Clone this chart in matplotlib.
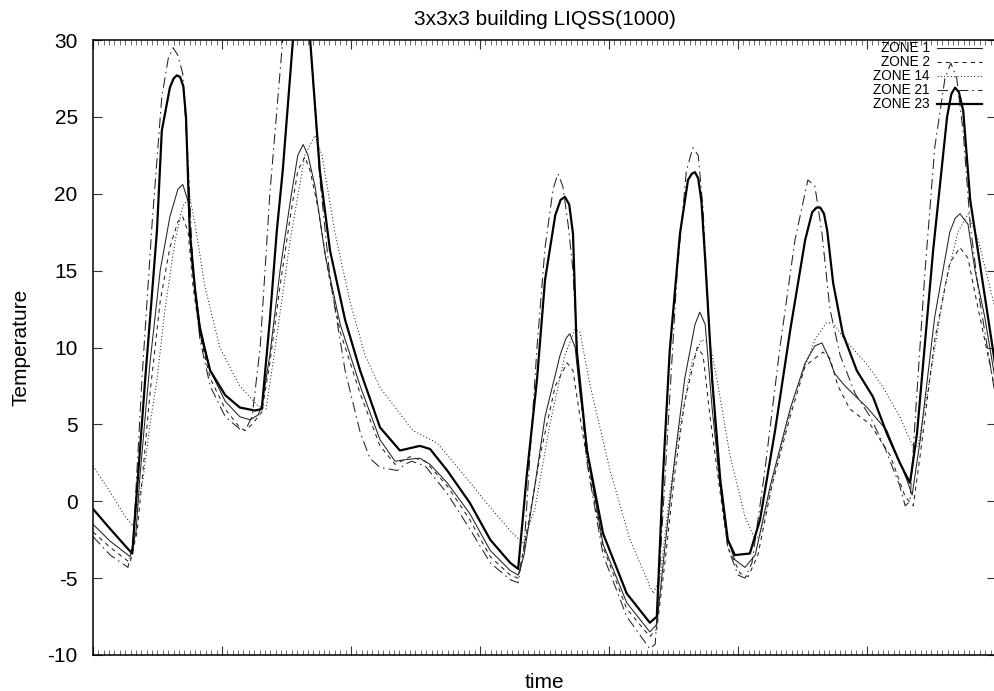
import numpy as np
import matplotlib.pyplot as plt
from matplotlib.ticker import MultipleLocator, NullFormatter

plt.rcParams['font.family'] = ['Liberation Sans', 'DejaVu Sans']
plt.rcParams['axes.unicode_minus'] = False

#==============#
# Curve data   #
#==============#
# time in hours, temperature in deg

z23_t = [0.0, 3.2, 6.0, 7.3, 8.6, 9.7, 10.8, 11.9, 12.8, 14.3, 15.0, 15.6, 16.2, 16.8, 17.3, 18.0, 19.0, 19.9,
         21.8, 24.6, 27.3, 30.1, 31.4, 32.9, 34.2, 35.3, 37.2, 38.0, 38.7, 39.4, 40.4, 42.2, 44.1,
         46.9, 49.7, 53.4, 57.1, 60.8, 62.7, 65.9, 70.1, 73.9, 77.6, 79.1, 80.7, 82.6, 84.1, 86.0,
         87.0, 87.8, 88.6, 89.3, 90.0, 91.9, 94.9, 99.3, 103.6, 104.9, 106.0, 107.3, 109.2, 110.7, 111.4,
         112.0, 112.6, 113.2, 113.9, 115.2, 116.7, 118.1, 119.4, 122.2, 124.1, 126.9, 129.7, 132.5, 133.8,
         134.6, 135.3, 136.0, 136.6, 137.7, 139.5, 142.1, 145.1, 147.7, 150.1, 152.0, 153.3, 156.3,
         158.9, 159.7, 160.4, 161.1, 161.9, 163.2, 167.8]
z23_v = [-0.5, -1.8, -2.9, -3.4, 2.7, 7.9, 12.7, 17.6, 24.1, 26.9, 27.5, 27.7, 27.6, 27.0, 25.0, 17.6, 13.7, 11.1,
         8.5, 6.9, 6.1, 5.9, 6.0, 11.8, 17.6, 21.5, 30.0, 32.5, 33.5, 32.5, 30.0, 21.5, 16.3,
         11.8, 8.5, 4.8, 3.3, 3.6, 3.4, 2.0, -0.1, -2.5, -4.0, -4.4, 1.7, 7.9, 14.4, 18.6,
         19.6, 19.8, 19.3, 17.4, 9.8, 3.3, -2.1, -6.0, -7.9, -7.5, 1.4, 9.8, 17.4, 20.9, 21.3,
         21.4, 21.0, 19.5, 15.7, 7.9, 1.4, -2.5, -3.5, -3.4, -1.2, 4.6, 11.1, 17.0, 18.8,
         19.1, 19.1, 18.7, 17.6, 14.2, 10.9, 8.5, 6.8, 4.4, 2.5, 1.2, 4.4, 16.3,
         25.0, 26.5, 26.9, 26.6, 25.4, 19.6, 9.0]

z1_t = [0.0, 3.2, 6.9, 8.0, 8.7, 10.6, 12.5, 14.3, 15.8, 16.7, 17.7, 18.4, 19.9, 21.8, 24.6, 27.3,
        29.2, 30.7, 31.4, 32.9, 34.8, 36.7, 38.1, 39.1, 40.0, 41.3, 43.2, 46.0, 49.7, 53.4, 56.2,
        58.0, 60.8, 62.7, 65.9, 70.1, 73.9, 77.6, 79.1, 80.2, 82.2, 84.1, 86.9, 88.0, 88.7, 89.7, 90.6,
        92.5, 94.9, 99.3, 103.6, 104.9, 106.4, 108.3, 110.1, 112.0, 112.9, 113.9, 115.2, 116.7,
        118.1, 119.4, 121.3, 123.2, 126.0, 129.7, 132.5, 134.3, 135.6, 136.7, 138.0, 139.9, 144.0,
        147.7, 151.4, 152.4, 153.9, 156.6, 159.4, 160.4, 161.3, 162.8, 164.1, 165.9, 167.8]
z1_v = [-1.5, -2.6, -3.6, -2.0, 1.5, 9.0, 15.0, 18.5, 20.3, 20.6, 19.5, 15.5, 11.5, 8.5, 6.5, 5.5,
        5.3, 5.6, 6.2, 9.5, 15.0, 19.5, 22.5, 23.2, 22.5, 20.5, 16.0, 11.5, 7.5, 4.0, 2.6,
        2.7, 2.8, 2.4, 1.2, -0.8, -3.2, -4.5, -4.8, -3.5, 1.0, 5.5, 9.5, 10.6, 10.9, 10.0, 7.0,
        2.0, -2.8, -6.6, -8.5, -8.0, -3.0, 3.0, 8.0, 11.5, 12.3, 11.5, 6.0, 1.0,
        -2.5, -3.8, -4.3, -3.5, 1.0, 6.0, 9.0, 10.1, 10.3, 9.5, 8.3, 7.5, 6.1,
        4.6, 1.4, 0.4, 4.0, 12.0, 17.5, 18.4, 18.7, 18.0, 15.0, 12.0, 8.0]

z2_t = [0.0, 3.2, 6.9, 8.2, 9.3, 10.6, 12.5, 14.3, 15.8, 16.7, 17.7, 18.6, 19.9, 21.8, 24.6, 27.3,
        28.3, 29.6, 31.4, 32.9, 34.8, 36.7, 38.1, 39.4, 40.4, 41.9, 43.7, 46.0, 49.7, 53.4, 56.2,
        59.0, 61.8, 65.9, 70.1, 73.9, 77.6, 79.1, 80.7, 83.2, 86.0, 88.2, 89.3, 90.6, 92.5, 94.9,
        99.3, 103.6, 104.9, 106.4, 108.3, 110.1, 112.4, 113.5, 114.8, 116.7, 118.1, 120.4, 121.9,
        123.7, 126.3, 129.7, 132.5, 135.8, 137.1, 138.6, 140.8, 144.6, 148.3, 151.1, 152.6, 153.9,
        156.6, 159.4, 161.3, 162.8, 164.1, 165.9, 167.8]
z2_v = [-2.0, -3.0, -4.0, -2.0, 2.0, 7.0, 13.0, 16.5, 18.2, 18.5, 17.5, 14.0, 10.8, 8.0, 6.0, 4.8,
        4.6, 5.0, 5.8, 9.0, 14.0, 18.5, 21.5, 22.4, 21.5, 19.0, 15.0, 11.0, 7.0, 3.6, 2.4,
        2.9, 2.6, 1.0, -1.2, -3.6, -4.8, -5.0, -2.0, 3.0, 7.5, 9.0, 8.5, 5.5, 1.5, -3.0,
        -7.0, -8.8, -8.3, -4.0, 2.0, 6.5, 10.0, 9.5, 5.5, 0.5, -3.0, -4.7, -4.9,
        -3.5, 1.0, 5.5, 8.8, 9.7, 9.3, 7.5, 6.0, 5.0, 3.0, 0.3, -0.3, 3.0,
        10.5, 15.5, 16.5, 15.8, 13.5, 10.5, 7.3]

z14_t = [0.0, 3.2, 6.0, 7.4, 9.3, 10.6, 11.9, 13.4, 15.3, 16.7, 18.0, 19.0, 20.8, 23.6, 27.3, 30.7,
         32.2, 33.9, 36.7, 39.4, 41.3, 42.6, 45.0, 47.8, 50.6, 53.4, 59.5, 64.0, 68.8, 73.9, 78.1,
         80.0, 82.2, 85.0, 87.8, 89.7, 90.6, 92.5, 96.2, 99.9, 104.2, 105.5, 107.3, 109.2, 111.4,
         113.2, 114.8, 116.3, 118.5, 121.3, 123.2, 124.1, 126.9, 130.6, 134.3, 136.4, 137.7, 139.9,
         144.0, 147.0, 150.1, 152.6, 153.5, 155.7, 158.5, 160.9, 162.8, 164.7, 167.8]
z14_v = [2.3, 0.6, -1.0, -1.6, 1.4, 5.0, 7.9, 12.5, 17.0, 19.2, 19.8, 18.0, 14.0, 10.0, 7.5, 6.2,
         6.0, 10.0, 17.0, 22.5, 23.8, 22.5, 17.5, 13.0, 9.5, 7.4, 4.6, 3.8, 1.8, -0.4, -2.1,
         -2.7, -0.5, 5.0, 9.5, 11.2, 11.0, 7.5, 2.0, -2.5, -6.0, -5.0, 0.5, 4.8, 9.0,
         10.5, 10.3, 7.5, 3.0, -1.0, -2.5, -2.2, 2.0, 7.0, 10.5, 11.6, 11.6, 10.5,
         8.9, 7.4, 5.5, 3.5, 3.6, 8.0, 14.0, 17.5, 18.7, 17.0, 12.6]

z21_t = [0.0, 3.2, 6.5, 7.4, 9.1, 11.0, 12.8, 14.0, 14.9, 15.8, 16.7, 17.7, 18.6, 19.9, 21.8, 24.6,
         27.3, 28.3, 29.6, 31.1, 32.9, 35.3, 36.7, 38.0, 39.3, 40.4, 42.2, 44.1, 46.9, 49.7, 51.5,
         53.4, 56.6, 58.0, 59.3, 61.8, 65.9, 70.1, 73.9, 77.6, 79.1, 80.2, 81.3, 82.6, 84.1, 85.6,
         86.5, 87.4, 88.4, 89.3, 90.2, 91.9, 94.9, 99.3, 103.6, 104.6, 105.5, 107.0, 108.7, 110.4,
         111.6, 112.6, 113.5, 114.8, 116.3, 118.1, 120.0, 121.3, 122.6, 125.0, 127.8, 130.6, 133.0,
         134.3, 135.6, 137.1, 139.0, 141.8, 144.6, 147.3, 150.1, 151.1, 152.0, 152.9, 154.8, 156.6,
         158.5, 159.6, 160.7, 161.9, 163.2, 165.0, 167.8]
z21_v = [-2.3, -3.5, -4.3, -3.0, 7.9, 18.1, 26.3, 28.8, 29.5, 29.0, 27.8, 22.0, 15.0, 10.5, 7.5, 5.5,
         4.7, 4.6, 5.5, 10.0, 20.0, 30.0, 34.0, 35.5, 34.0, 30.0, 21.0, 14.5, 8.5, 4.5, 2.8,
         2.2, 2.0, 2.4, 2.6, 2.3, 0.5, -1.8, -4.0, -5.1, -5.3, -3.0, 3.0, 10.0, 16.5, 20.3,
         21.3, 20.5, 18.0, 15.0, 9.0, 2.5, -3.5, -7.5, -9.6, -9.3, -4.0, 5.0, 15.0, 21.5,
         23.0, 22.5, 19.0, 10.0, 2.0, -3.0, -4.8, -5.0, -4.0, 2.0, 10.0, 17.0, 20.9,
         20.5, 17.5, 12.5, 9.5, 7.0, 5.5, 3.5, 1.0, -0.3, 0.0, 5.0, 15.0, 23.0,
         27.5, 28.5, 27.5, 24.0, 18.0, 13.0, 7.0]

#==========#
# Plotting #
#==========#

fig = plt.figure(figsize=(9.95, 6.91), dpi=100)
ax = fig.add_axes([93 / 995, (691 - 655) / 691, 903 / 995, 615 / 691])

thin = dict(color='#222222', linewidth=0.75)
ax.plot(z1_t, z1_v, label='ZONE 1', linestyle='-', **thin)
ax.plot(z2_t, z2_v, label='ZONE 2', linestyle=(0, (4, 4)), **thin)
ax.plot(z14_t, z14_v, label='ZONE 14', linestyle=(0, (1, 2.2)), **thin)
ax.plot(z21_t, z21_v, label='ZONE 21', linestyle=(0, (10, 4, 1.5, 4)), **thin)
ax.plot(z23_t, z23_v, label='ZONE 23', color='black', linewidth=1.6)

ax.set_xlim(0, 168)
ax.set_ylim(-10, 30)

ax.xaxis.set_major_locator(MultipleLocator(24))
ax.xaxis.set_minor_locator(MultipleLocator(1))
ax.xaxis.set_major_formatter(NullFormatter())
ax.yaxis.set_major_locator(MultipleLocator(5))
ax.tick_params(axis='both', which='major', direction='in', length=6.5, width=0.8,
               top=True, right=True, labelsize=15, color='#333333')
ax.tick_params(axis='x', which='minor', direction='in', length=3.5, width=0.6,
               top=True, color='#555555')
ax.tick_params(axis='y', which='major', pad=11)
for s in ax.spines.values():
    s.set_linewidth(1.1)

ax.set_title('3x3x3 building LIQSS(1000)', fontsize=15, pad=11)
ax.set_xlabel('time', fontsize=15, labelpad=9.5)
ax.set_ylabel('Temperature', fontsize=15, labelpad=12)

ax.legend(loc='upper right', bbox_to_anchor=(0.993, 1.011), frameon=False, markerfirst=False,
          fontsize=9.8, handlelength=3.3, labelspacing=0.0, borderaxespad=0.2, handletextpad=0.5)

plt.savefig('out.png', dpi=100)
